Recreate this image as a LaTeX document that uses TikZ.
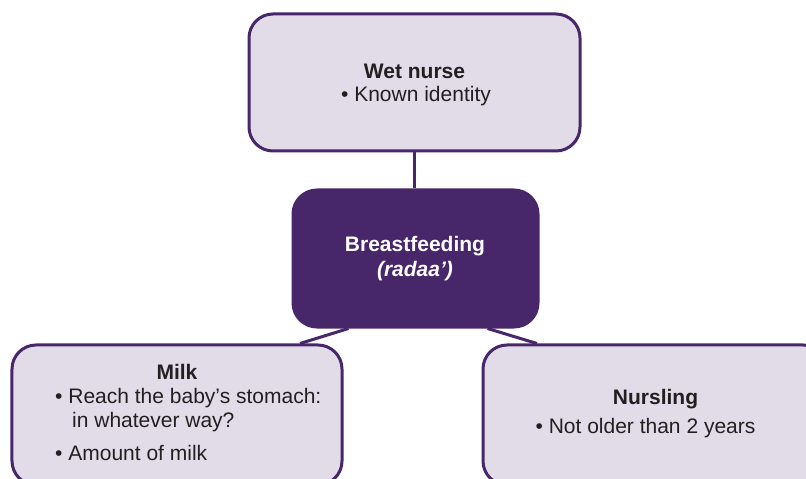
\documentclass[tikz,border=0pt]{standalone}
\usepackage{fontspec}
\setmainfont{Liberation Sans}
\usetikzlibrary{calc}
\definecolor{boxfill}{HTML}{E1DCE7}
\definecolor{purp}{HTML}{48266A}
\definecolor{txt}{HTML}{231F20}
\begin{document}
\begin{tikzpicture}[x=1bp,y=-1bp,
  box/.style={draw=purp,line width=3bp,fill=boxfill,rounded corners=24bp,inner sep=0pt},
  darkbox/.style={box,fill=purp},
  conn/.style={draw=purp,line width=3bp},
  lbl/.style={inner sep=0pt,anchor=base,text=txt,font=\fontsize{21bp}{23bp}\selectfont},
  lblw/.style={lbl,anchor=base west},
  wlbl/.style={lbl,text=white}]
\useasboundingbox (0,0) rectangle (806,479);
\clip (0,0) rectangle (806,479);
% boxes
\node[box,minimum width=331bp,minimum height=137bp] (wet) at (414.5,82.5) {};
\node[darkbox,minimum width=245bp,minimum height=137bp] (cen) at (415.5,258.5) {};
\node[box,minimum width=330bp,minimum height=140bp] (milk) at (177,415) {};
\node[box,minimum width=344bp,minimum height=140bp] (nurs) at (655,415) {};
% connectors
\draw[conn] (wet.south) -- (wet.south |- cen.north);
\draw[conn] ($(cen.south)+(-67,0)$) -- ($(milk.north)+(123,0)$);
\draw[conn] ($(cen.south)+(72,0)$) -- ($(nurs.north)+(-118,0)$);
% texts
\node[lbl] (wet1) at (414.5,79) {\textbf{Wet nurse}};
\node[lbl] (wet2) at (416,102) {• Known identity};
\node[wlbl] (cen1) at (415,252) {\textbf{Breastfeeding}};
\node[wlbl] (cen2) at (415,277) {\textbf{\textit{(radaa’)}}};
\node[lbl] (milk1) at (177,379) {\textbf{Milk}};
\node[lblw] (milk2) at (55,403) {• Reach the baby’s stomach:};
\node[lblw] (milk3) at (72,427) {in whatever way?};
\node[lblw] (milk4) at (55,460) {• Amount of milk};
\node[lbl] (nurs1) at (655.5,404) {\textbf{Nursling}};
\node[lbl] (nurs2) at (645.5,433) {• Not older than 2 years};
\end{tikzpicture}
\end{document}
